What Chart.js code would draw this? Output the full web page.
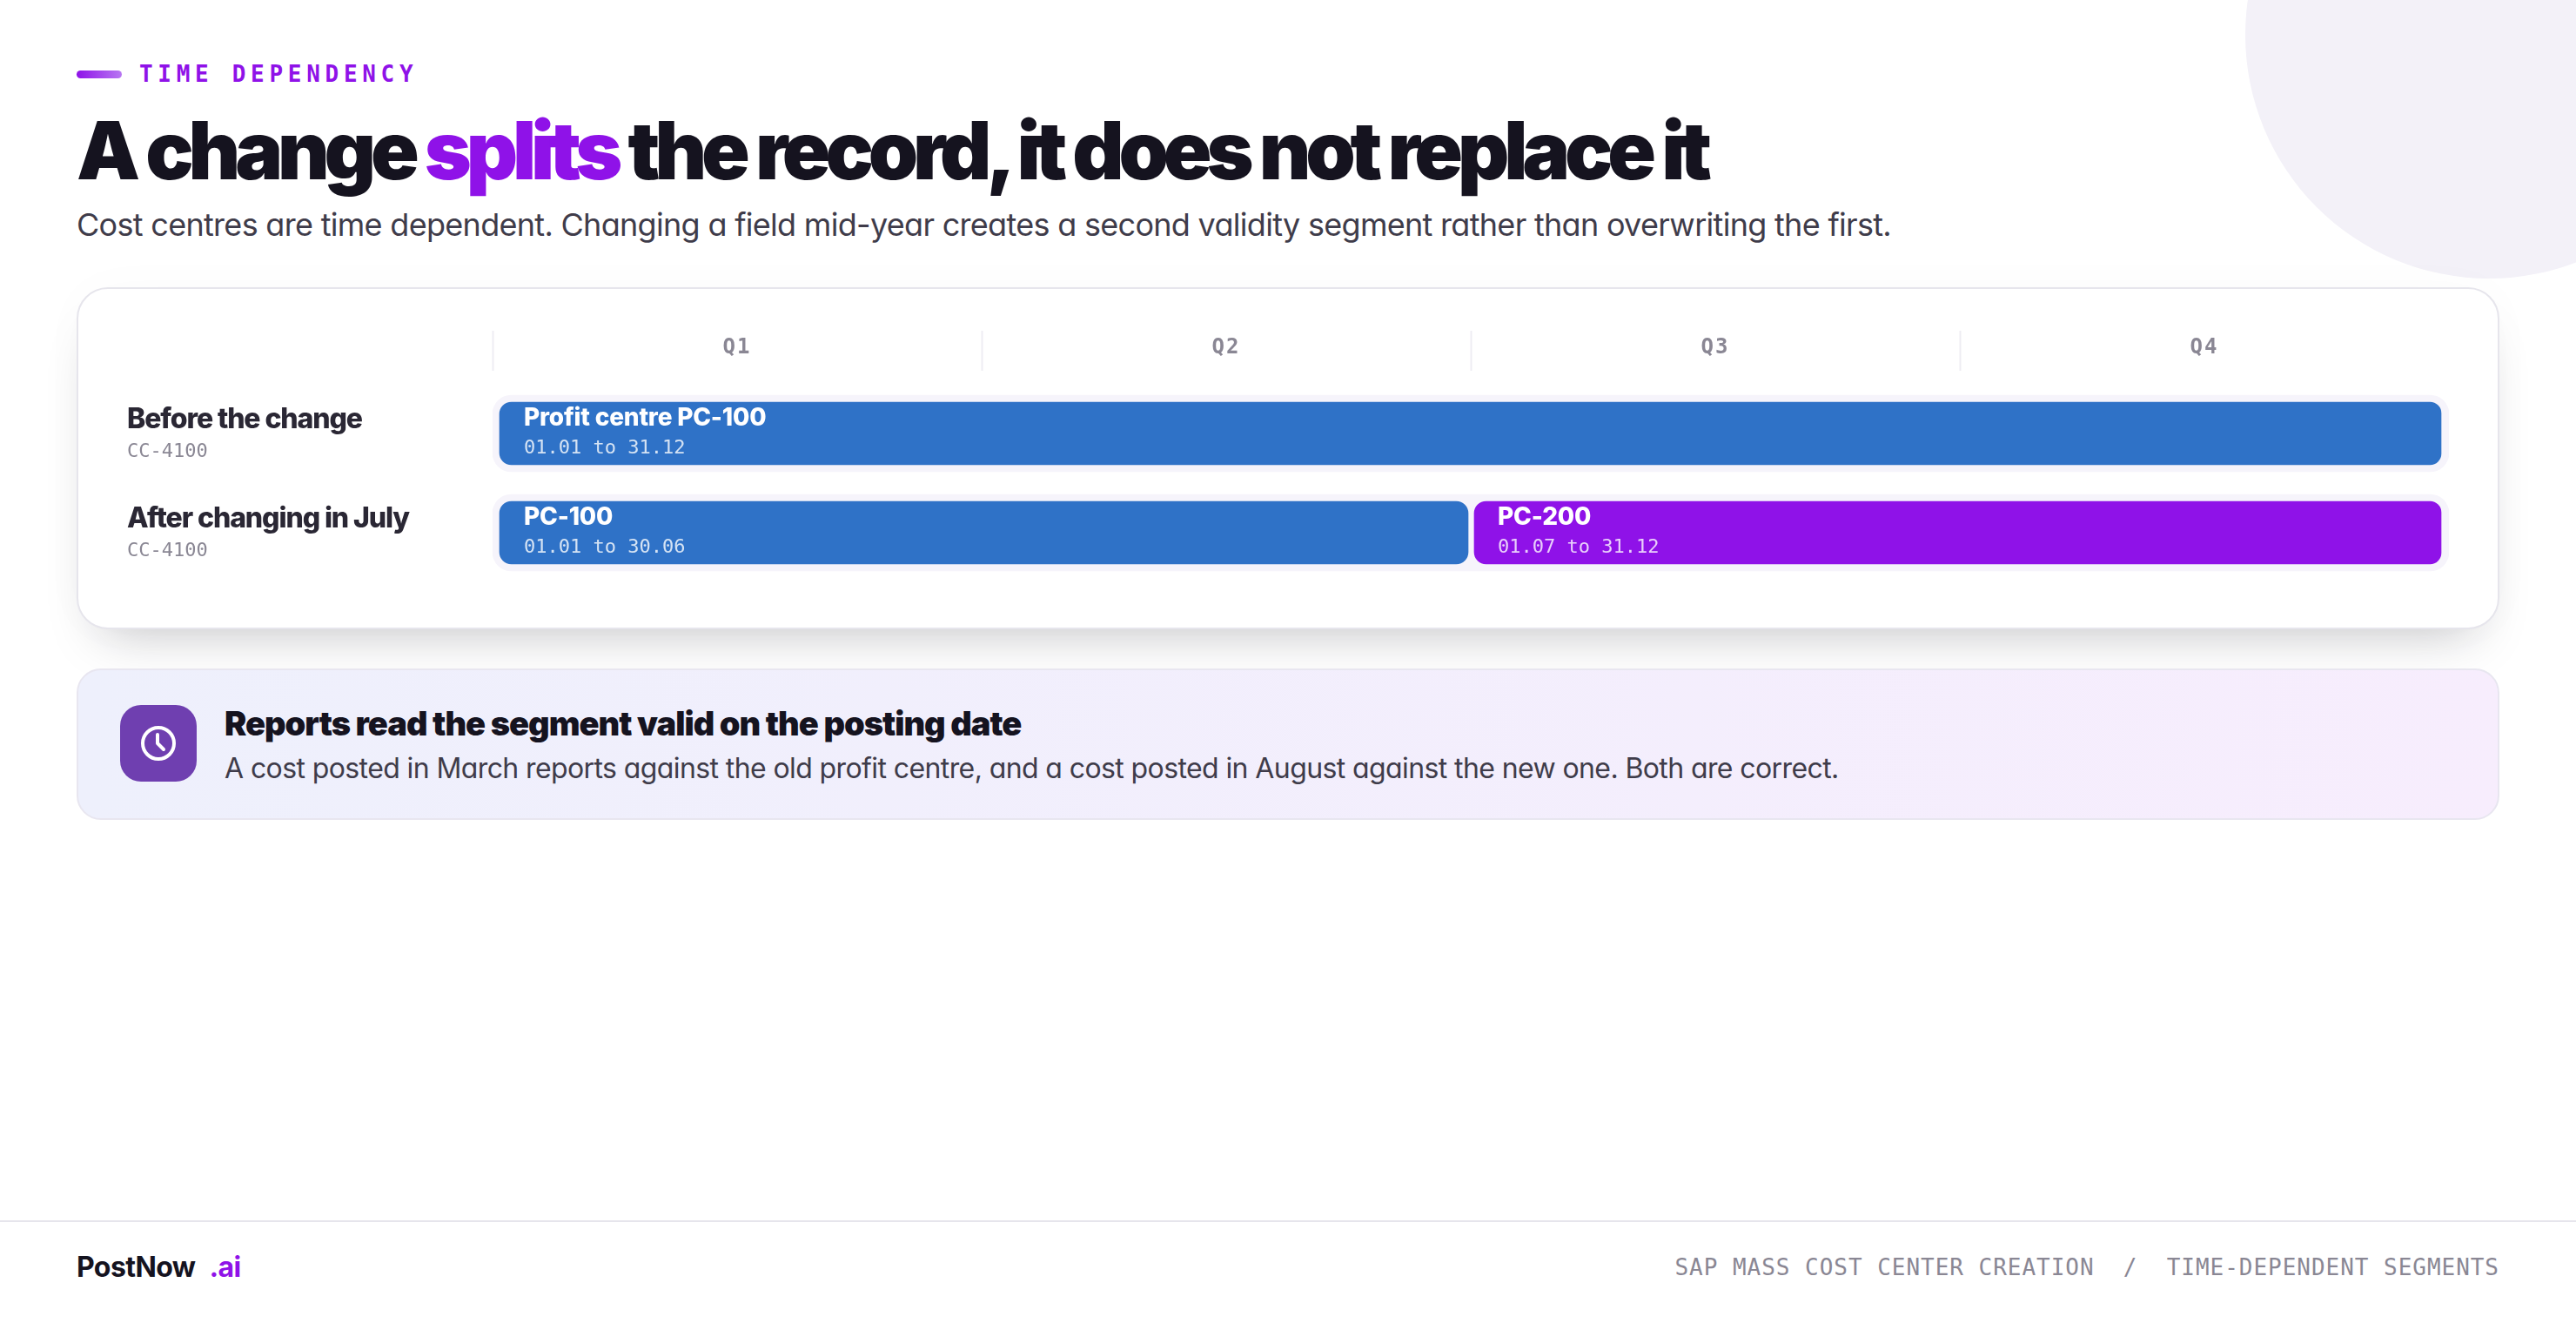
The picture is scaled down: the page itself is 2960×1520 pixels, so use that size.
<!DOCTYPE html>
<html>
<head>
<meta charset="utf-8">
<script src="https://cdn.jsdelivr.net/npm/chart.js@4"></script>
<style>
  html, body { margin: 0; padding: 0; background: #fff; }
  body { position: relative; width: 2960px; height: 1520px; overflow: hidden; font-family: Inter, sans-serif; color: #15131f; }
  .blob { position: absolute; left: 2580px; top: -240px; width: 560px; height: 560px; border-radius: 50%; background: #f3f1f8; }
  .eyebrow { position: absolute; left: 160px; top: 69px; font: 600 26px "DejaVu Sans Mono", monospace; letter-spacing: 5.7px; color: #8f12e8; line-height: 32px; white-space: pre; }
  .eyebrow-bar { position: absolute; left: 88px; top: 81px; width: 52px; height: 9px; border-radius: 5px; background: linear-gradient(90deg, #8f12e8, #b877f2); }
  h1 { position: absolute; left: 88px; top: 118px; margin: 0; font: 900 92px/110px Inter, sans-serif; letter-spacing: -6.14px; white-space: pre; }
  h1 span { color: #8f12e8; }
  .sub { position: absolute; left: 88px; top: 233px; font: 400 36px/50px Inter, sans-serif; font-feature-settings: "cv11"; letter-spacing: -.7px; color: #3f3c4a; white-space: pre; }
  .card { position: absolute; left: 88px; top: 330px; width: 2784px; height: 393px; box-sizing: border-box; background: #fff; border: 2px solid #e6e5ec; border-radius: 36px; box-shadow: 0 32px 60px -30px rgba(21, 19, 31, .26), 0 0 60px rgba(21, 19, 31, .02); }
  canvas { position: absolute; left: 88px; top: 330px; }
  .note { position: absolute; left: 88px; top: 768px; width: 2784px; height: 174px; box-sizing: border-box; border: 2px solid #e8e6f0; border-radius: 28px; background: linear-gradient(90deg, #eef0fc, #f7edfd); }
  .icon { position: absolute; left: 138px; top: 810px; width: 88px; height: 88px; border-radius: 24px; background: #6f3fb0; }
  .icon svg { position: absolute; left: 22px; top: 22px; }
  .note-title { position: absolute; left: 258px; top: 808px; font: 900 38px/46px Inter, sans-serif; letter-spacing: -1px; white-space: pre; }
  .note-body { position: absolute; left: 258px; top: 862px; font: 400 32px/42px Inter, sans-serif; font-feature-settings: "cv11"; letter-spacing: -.6px; color: #3f3c4a; white-space: pre; }
  .foot-line { position: absolute; left: 0; top: 1402px; width: 2960px; height: 2px; background: #e6e5ec; }
  .brand { position: absolute; left: 88px; top: 1435px; font: 700 32px/42px Inter, sans-serif; letter-spacing: -.6px; white-space: pre; }
  .brand span { color: #8f12e8; margin-left: 9px; }
  .foot-right { position: absolute; right: 88px; top: 1440px; font: 400 26px/32px "DejaVu Sans Mono", monospace; letter-spacing: .97px; color: #8a8794; white-space: pre; }
</style>
</head>
<body>
<div class="blob"></div>
<div class="eyebrow-bar"></div>
<div class="eyebrow">TIME DEPENDENCY</div>
<h1>A change <span>splits</span> the record, it does not replace it</h1>
<div class="sub">Cost centres are time dependent. Changing a field mid-year creates a second validity segment rather than overwriting the first.</div>
<div class="card"></div>
<canvas id="timeline" width="2784" height="393"></canvas>
<div class="note"></div>
<div class="icon">
  <svg width="44" height="44" viewBox="0 0 44 44" fill="none" stroke="#fff" stroke-width="4" stroke-linecap="round" stroke-linejoin="round">
    <circle cx="22" cy="22" r="18"></circle><path d="M21 12v10l7 7"></path>
  </svg>
</div>
<div class="note-title">Reports read the segment valid on the posting date</div>
<div class="note-body">A cost posted in March reports against the old profit centre, and a cost posted in August against the new one. Both are correct.</div>
<div class="foot-line"></div>
<div class="brand">PostNow <span>.ai</span></div>
<div class="foot-right">SAP MASS COST CENTER CREATION  /  TIME-DEPENDENT SEGMENTS</div>

<script>
const rows = ['Before the change', 'After changing in July'];
const rowCodes = ['CC-4100', 'CC-4100'];
const quarters = ['Q1', 'Q2', 'Q3', 'Q4'];

// validity in months from the start of the year
const track = [[0, 12], [0, 12]];
const firstSegment = [[0, 12], [0, 6]];
const secondSegment = [null, [6, 12]];

const firstTitles = ['Profit centre PC-100', 'PC-100'];
const firstDates = ['01.01 to 31.12', '01.01 to 30.06'];
const secondTitles = [null, 'PC-200'];
const secondDates = [null, '01.07 to 31.12'];

const BLUE = '#2f72c7';
const PURPLE = '#8f12e8';
const TRACK = '#f6f4fb';
const MUTED = '#8a8794';
const MONO = '"DejaVu Sans Mono", monospace';

// row names and the text inside the bars
const textPlugin = {
  id: 'timelineText',
  beforeDraw(chart) {
    chart.ctx.letterSpacing = '2px'; // for the quarter ticks
  },
  afterDatasetsDraw(chart) {
    const { ctx, scales } = chart;
    ctx.save();
    ctx.textAlign = 'left';
    ctx.textBaseline = 'alphabetic';

    rows.forEach((name, i) => {
      const y = scales.y.getPixelForValue(i);
      ctx.letterSpacing = '-1.1px';
      ctx.fillStyle = '#2a2734';
      ctx.font = '800 32px Inter, sans-serif';
      ctx.fillText(name, 58, y - 6);
      ctx.letterSpacing = '0px';
      ctx.fillStyle = MUTED;
      ctx.font = '400 22px ' + MONO;
      ctx.fillText(rowCodes[i], 58, y + 27);
    });

    const drawSegment = (datasetIndex, titles, dates, dateColor, inset) => {
      chart.getDatasetMeta(datasetIndex).data.forEach((bar, i) => {
        if (!titles[i]) return;
        const x = Math.min(bar.x, bar.base) + inset;
        ctx.letterSpacing = '-0.2px';
        ctx.fillStyle = '#fff';
        ctx.font = '800 28px Inter, sans-serif';
        ctx.fillText(titles[i], x, bar.y - 9);
        ctx.letterSpacing = '0px';
        ctx.fillStyle = dateColor;
        ctx.font = '400 22px ' + MONO;
        ctx.fillText(dates[i], x, bar.y + 23);
      });
    };
    drawSegment(1, firstTitles, firstDates, '#d5e3f4', 36);
    drawSegment(2, secondTitles, secondDates, '#e9cffb', 31);
    ctx.restore();
  }
};

new Chart(document.getElementById('timeline').getContext('2d'), {
  type: 'bar',
  plugins: [textPlugin],
  data: {
    labels: rows,
    datasets: [
      {
        label: 'Year',
        data: track,
        backgroundColor: TRACK,
        borderWidth: 0,
        borderRadius: 22,
        borderSkipped: false,
        order: 3
      },
      {
        label: 'First segment',
        data: firstSegment,
        backgroundColor: BLUE,
        borderColor: 'transparent',
        borderWidth: (c) => ({ top: 8, bottom: 8, left: 8, right: c.dataIndex === 1 ? 3 : 9 }),
        borderRadius: 22,
        borderSkipped: false,
        order: 2
      },
      {
        label: 'Second segment',
        data: secondSegment,
        backgroundColor: PURPLE,
        borderColor: 'transparent',
        borderWidth: { top: 8, bottom: 8, left: 4, right: 9 },
        borderRadius: 22,
        borderSkipped: false,
        order: 1
      }
    ]
  },
  options: {
    indexAxis: 'y',
    responsive: false,
    animation: false,
    devicePixelRatio: 1,
    layout: { padding: { right: 58, bottom: 54, top: 0, left: 0 } },
    datasets: { bar: { grouped: false, barThickness: 88 } },
    plugins: { legend: { display: false }, tooltip: { enabled: false } },
    scales: {
      x: {
        type: 'linear',
        position: 'top',
        min: 0,
        max: 12,
        ticks: { display: false },
        grid: { display: false },
        border: { display: false },
        afterFit(scale) { scale.height = 15; }
      },
      q: {
        type: 'category',
        axis: 'x',
        position: 'top',
        labels: quarters,
        offset: true,
        weight: 1,
        grid: {
          offset: true,
          drawOnChartArea: false,
          tickLength: 46,
          tickWidth: 2,
          tickColor: (c) => (c.index === undefined ? 'transparent' : '#eeedf3')
        },
        border: { display: false },
        ticks: {
          color: MUTED,
          padding: -34,
          maxRotation: 0,
          font: { family: MONO, size: 24, weight: '700' }
        },
        afterFit(scale) { scale.height = 96; }
      },
      y: {
        type: 'category',
        ticks: { display: false },
        grid: { display: false },
        border: { display: false },
        afterFit(scale) { scale.width = 478; }
      }
    }
  }
});
</script>
</body>
</html>
